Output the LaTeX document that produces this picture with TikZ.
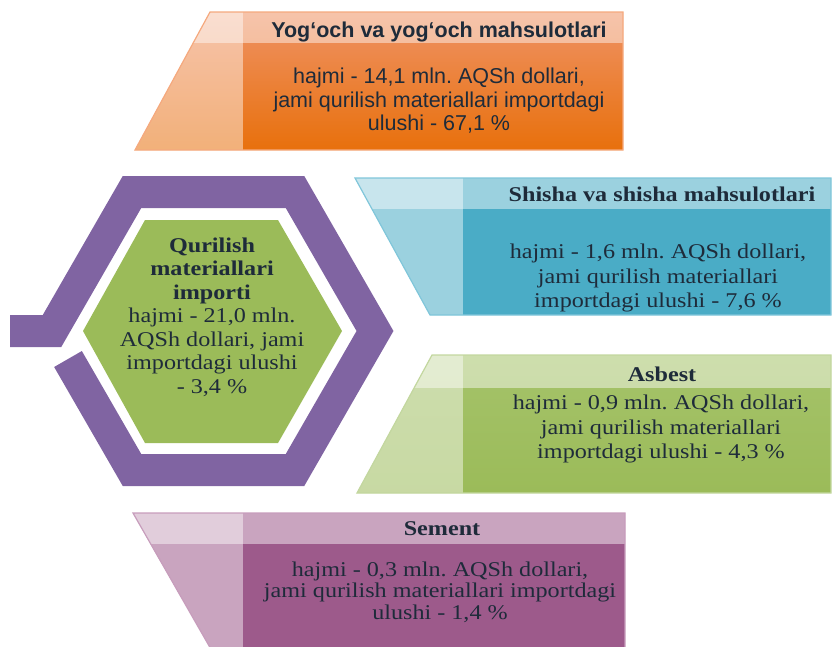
\documentclass[tikz,border=0pt]{standalone}
\usepackage{fontspec}
\newfontfamily\serifw[FakeStretch=1.15]{Liberation Serif}
\newfontfamily\sansw{Liberation Sans}
\frenchspacing
\definecolor{txt}{HTML}{1E2B3A}
\definecolor{orTop}{HTML}{EF9366}
\definecolor{orBot}{HTML}{E8700C}
\definecolor{orLine}{HTML}{F5A97E}
\definecolor{blBody}{HTML}{4AACC6}
\definecolor{blLine}{HTML}{80C6DA}
\definecolor{grTop}{HTML}{A5C36A}
\definecolor{grBot}{HTML}{9BBB59}
\definecolor{grLine}{HTML}{C3D79F}
\definecolor{puBody}{HTML}{9D5A8B}
\definecolor{puLine}{HTML}{C79DBC}
\definecolor{frame}{HTML}{8064A2}
\definecolor{hexgreen}{HTML}{9BBB59}
\begin{document}
\begin{tikzpicture}[x=1pt,y=-1pt,
  sertext/.style={text=txt, align=center, font=\serifw\fontsize{21}{24.5}\selectfont, inner sep=0pt},
  sertextb/.style={text=txt, align=center, font=\serifw\bfseries\fontsize{21}{24.5}\selectfont, inner sep=0pt},
  santext/.style={text=txt, align=center, font=\sansw\fontsize{21.5}{23.5}\selectfont, inner sep=0pt},
  santextb/.style={text=txt, align=center, font=\sansw\bfseries\fontsize{21.5}{23.5}\selectfont, inner sep=0pt},
  hilite/.style={fill=white, fill opacity=0.45},
  boxline/.style={line width=1.2pt},
]
\useasboundingbox (0,0) rectangle (833,646);
\clip (0,0) rectangle (833,646);

% ---------- orange box ----------
\shade[top color=orTop, bottom color=orBot] (210,12) -- (623,12) -- (623,150) -- (135,150) -- cycle;
\begin{scope}
  \clip (210,12) -- (623,12) -- (623,150) -- (135,150) -- cycle;
  \fill[hilite] (0,0) rectangle (840,43);
  \fill[hilite] (0,0) rectangle (243,160);
\end{scope}
\draw[boxline, draw=orLine] (210,12) -- (623,12) -- (623,150) -- (135,150) -- cycle;

% ---------- blue box ----------
\fill[blBody] (355,178) -- (831,178) -- (831,315) -- (430,315) -- cycle;
\begin{scope}
  \clip (355,178) -- (831,178) -- (831,315) -- (430,315) -- cycle;
  \fill[hilite] (300,170) rectangle (840,209);
  \fill[hilite] (300,170) rectangle (463,320);
\end{scope}
\draw[boxline, draw=blLine] (355,178) -- (831,178) -- (831,315) -- (430,315) -- cycle;

% ---------- green box ----------
\shade[top color=grTop, bottom color=grBot] (432,355) -- (831,355) -- (831,493) -- (357,493) -- cycle;
\begin{scope}
  \clip (432,355) -- (831,355) -- (831,493) -- (357,493) -- cycle;
  \fill[hilite] (300,350) rectangle (840,388);
  \fill[hilite] (300,350) rectangle (463,500);
\end{scope}
\draw[boxline, draw=grLine] (432,355) -- (831,355) -- (831,493) -- (357,493) -- cycle;

% ---------- purple box ----------
\fill[puBody] (133,513) -- (625,513) -- (625,651) -- (212,651) -- cycle;
\begin{scope}
  \clip (133,513) -- (625,513) -- (625,651) -- (212,651) -- cycle;
  \fill[hilite] (100,505) rectangle (640,544);
  \fill[hilite] (100,505) rectangle (243,660);
\end{scope}
\draw[boxline, draw=puLine] (133,513) -- (625,513) -- (625,651) -- (212,651) -- cycle;

% ---------- hexagon ----------
\draw[line width=32pt, draw=frame, line join=miter]
  (10,331) -- (52,331) -- (132,192) -- (295,192) -- (375,331) -- (295,470) -- (132,470) -- (68,359);
\fill[hexgreen] (145,220) -- (278,220) -- (342,331) -- (278,443) -- (145,443) -- (83,331) -- cycle;

% ---------- texts ----------
\node[santextb] (orHead) at (439,32) {Yog‘och va yog‘och mahsulotlari};
\node[santext] (orBody) at (439,101) {hajmi - 14,1 mln. AQSh dollari,\\jami qurilish materiallari importdagi\\ulushi - 67,1 \%};

\node[sertextb] (blHead) at (662,194) {Shisha va shisha mahsulotlari};
\node[sertext] (blBody) at (658,278) {hajmi - 1,6 mln. AQSh dollari,\\jami qurilish materiallari\\importdagi ulushi - 7,6 \%};

\node[sertextb] (grHead) at (662,374) {Asbest};
\node[sertext] (grBody) at (661,429) {hajmi - 0,9 mln. AQSh dollari,\\jami qurilish materiallari\\importdagi ulushi - 4,3 \%};

\node[sertextb] (puHead) at (442,529) {Sement};
\node[sertext, font=\serifw\fontsize{21}{21.5}\selectfont] (puBody) at (440,592) {hajmi - 0,3 mln. AQSh dollari,\\jami qurilish materiallari importdagi\\ulushi - 1,4 \%};

\node[sertext, font=\serifw\fontsize{21}{23.5}\selectfont] (hexText) at (212,317)
  {\textbf{Qurilish}\\\textbf{materiallari}\\\textbf{importi}\\hajmi - 21,0 mln.\\AQSh dollari, jami\\importdagi ulushi\\- 3,4 \%};
\end{tikzpicture}
\end{document}
